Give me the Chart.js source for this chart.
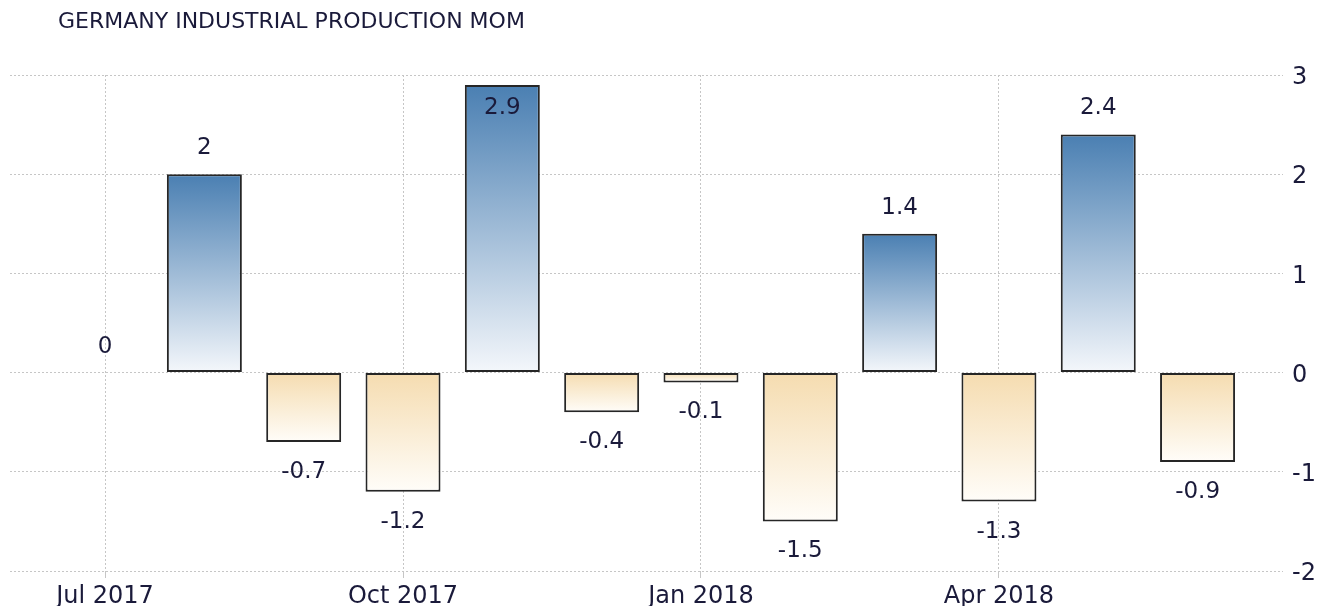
<!DOCTYPE html>
<html>
<head>
<meta charset="utf-8">
<script src="https://cdn.jsdelivr.net/npm/chart.js@4/dist/chart.umd.min.js"></script>
<style>
  html, body { margin: 0; padding: 0; background: #fff; }
  #wrap { width: 1317px; height: 606px; position: relative; }
</style>
</head>
<body>
<div id="wrap"><canvas id="chart_industrialProductionMom"></canvas></div>
<script>
var chartTitle = 'GERMANY INDUSTRIAL PRODUCTION MOM';
var months = ['Jul 2017', 'Aug 2017', 'Sep 2017', 'Oct 2017', 'Nov 2017', 'Dec 2017',
              'Jan 2018', 'Feb 2018', 'Mar 2018', 'Apr 2018', 'May 2018', 'Jun 2018'];
var values = [0, 2, -0.7, -1.2, 2.9, -0.4, -0.1, -1.5, 1.4, -1.3, 2.4, -0.9];
var xTickIndexes = [0, 3, 6, 9];
var xTickLabels = ['Jul 2017', 'Oct 2017', 'Jan 2018', 'Apr 2018'];
var yTicks = [-2, -1, 0, 1, 2, 3];

var textColor = '#1a1a3a';
var fontFamily = "'DejaVu Sans', sans-serif";

var points = values.map(function(v, i) { return { x: i, y: v }; });

function barFill(context) {
    var chart = context.chart;
    if (!chart.chartArea || context.type !== 'data') return 'rgba(0,0,0,0)';
    var v = context.raw.y;
    var ys = chart.scales.y;
    var top = ys.getPixelForValue(Math.max(v, 0));
    var bottom = ys.getPixelForValue(Math.min(v, 0));
    if (bottom - top < 1) bottom = top + 1;
    var g = chart.ctx.createLinearGradient(0, top, 0, bottom);
    if (v >= 0) {
        g.addColorStop(0, '#4a7fb2');
        g.addColorStop(1, '#f4f7fb');
    } else {
        g.addColorStop(0, '#f5dcb0');
        g.addColorStop(1, '#fffdf9');
    }
    return g;
}

var chart_industrialProductionMom = new Chart(document.getElementById('chart_industrialProductionMom'), {
    type: 'bar',
    data: {
        datasets: [
            {
                label: 'Industrial production MoM',
                data: points,
                backgroundColor: barFill,
                borderColor: '#262626',
                borderWidth: function(context) {
                    return context.raw && context.raw.y === 0 ? 0 : 2;
                },
                borderSkipped: false,
                categoryPercentage: 1,
                barPercentage: 0.755
            }
        ]
    },
    options: {
        animation: false,
        responsive: true,
        maintainAspectRatio: false,
        layout: {
            padding: { top: 75, left: 10, right: 0, bottom: 0 }
        },
        plugins: {
            legend: { display: false },
            title: { display: false },
            tooltip: { enabled: false }
        },
        scales: {
            x: {
                type: 'linear',
                min: -0.957,
                max: 11.86,
                offset: false,
                afterBuildTicks: function(scale) {
                    scale.ticks = xTickIndexes.map(function(v) { return { value: v }; });
                },
                afterFit: function(scale) {
                    scale.height = 35;
                },
                ticks: {
                    autoSkip: false,
                    maxRotation: 0,
                    padding: 4,
                    color: textColor,
                    font: { family: fontFamily, size: 24 },
                    callback: function(value) {
                        var k = xTickIndexes.indexOf(value);
                        return k >= 0 ? xTickLabels[k] : '';
                    }
                },
                grid: {
                    offset: false,
                    color: '#c6c6c6',
                    lineWidth: 1,
                    tickLength: 7
                },
                border: { display: false, dash: [2, 2] }
            },
            y: {
                position: 'right',
                min: -2,
                max: 3,
                afterBuildTicks: function(scale) {
                    scale.ticks = yTicks.map(function(v) { return { value: v }; });
                },
                afterFit: function(scale) {
                    scale.width = 34;
                },
                ticks: {
                    padding: 9,
                    labelOffset: 3,
                    color: textColor,
                    font: { family: fontFamily, size: 24 }
                },
                grid: {
                    color: '#c6c6c6',
                    lineWidth: 1,
                    drawTicks: false
                },
                border: { display: false, dash: [2, 2] }
            }
        }
    },
    plugins: [{
        id: 'whiteBgTitleLabels',
        beforeDraw: function(chart) {
            var ctx = chart.ctx;
            ctx.save();
            ctx.fillStyle = 'white';
            ctx.fillRect(0, 0, chart.width, chart.height);
            ctx.restore();
        },
        afterDraw: function(chart) {
            var ctx = chart.ctx;
            ctx.save();
            ctx.fillStyle = textColor;
            ctx.font = '22px ' + fontFamily;
            ctx.textAlign = 'left';
            ctx.textBaseline = 'middle';
            ctx.fillText(chartTitle, 58, 22);
            ctx.restore();
        },
        afterDatasetsDraw: function(chart) {
            var ctx = chart.ctx;
            var meta = chart.getDatasetMeta(0);
            var top = chart.chartArea.top;
            ctx.save();
            ctx.fillStyle = textColor;
            ctx.font = '23px ' + fontFamily;
            ctx.textAlign = 'center';
            ctx.textBaseline = 'middle';
            meta.data.forEach(function(bar, i) {
                var v = values[i];
                var y;
                if (v >= 0) {
                    y = bar.y - 26;
                    if (y < top + 12) y = bar.y + 23; // no room above: put it inside the bar
                } else {
                    y = bar.y + 30;
                }
                ctx.fillText(String(v), bar.x, y);
            });
            ctx.restore();
        }
    }]
});
</script>
</body>
</html>
